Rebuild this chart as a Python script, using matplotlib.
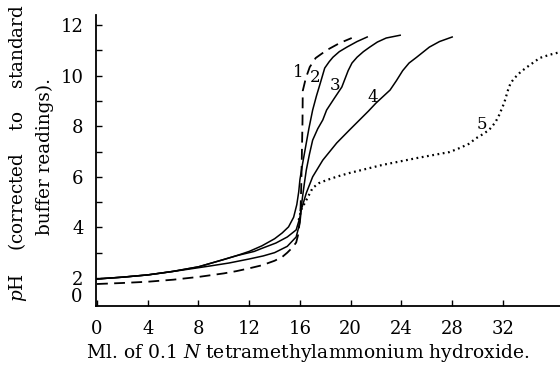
import matplotlib
matplotlib.use("Agg")
import matplotlib.pyplot as plt
import matplotlib.transforms as mtransforms

plt.rcParams['font.family'] = ['DejaVu Serif']
plt.rcParams['mathtext.fontset'] = 'dejavuserif'

# ---- data ----
c1_x = [0, 2, 4, 6, 8, 10, 11, 12, 13, 14, 14.6, 15.0, 15.4, 15.7, 15.85, 15.95, 16.05, 16.1,
        16.15, 16.2, 16.22, 16.46, 16.77, 17.24, 18.11, 19.13, 20.08]
c1_y = [1.76, 1.80, 1.85, 1.93, 2.04, 2.18, 2.27, 2.38, 2.50, 2.68, 2.83, 3.0, 3.2, 3.4, 3.7, 4.1, 4.8, 5.6,
        6.9, 8.2, 9.4, 9.9, 10.34, 10.7, 11.01, 11.29, 11.49]

c2_x = [0, 2, 4, 6, 8, 10, 11, 12, 13, 14, 14.6, 15.1, 15.5, 15.75, 15.9, 16.0, 16.2, 16.4, 16.7,
        17.0, 17.3, 17.6, 17.95, 18.3, 18.6, 19.1, 19.7, 20.5, 21.3]
c2_y = [1.96, 2.03, 2.12, 2.26, 2.44, 2.73, 2.88, 3.05, 3.27, 3.55, 3.78, 4.02, 4.4, 4.9, 5.4, 5.9, 6.5, 7.06, 7.9,
        8.64, 9.2, 9.7, 10.3, 10.55, 10.73, 10.95, 11.13, 11.35, 11.53]

c3_x = [0, 2, 4, 6, 8, 10, 11, 12, 12.4, 13, 14.1, 15.0, 15.7, 16.0, 16.1, 16.2, 16.35, 16.5, 16.75,
        17.0, 17.4, 17.8, 18.1, 18.7, 19.3, 19.8, 20.1, 20.5, 21.0, 21.5, 22.1, 22.8, 23.9]
c3_y = [1.96, 2.03, 2.12, 2.26, 2.44, 2.73, 2.88, 3.0, 3.05, 3.17, 3.38, 3.62, 3.9, 4.4, 4.8, 5.2, 5.75, 6.27, 6.9,
        7.45, 7.9, 8.25, 8.64, 9.1, 9.55, 10.2, 10.5, 10.73, 10.95, 11.13, 11.33, 11.49, 11.6]

c4_x = [0, 2, 4, 5.2, 7, 9, 10.4, 12, 13.1, 14, 15, 15.7, 16.0, 16.1, 16.5, 17.0, 17.8, 18.9, 19.9,
        20.7, 21.4, 22.0, 23.1, 23.6, 24.1, 24.6, 25.2, 26.2, 27.0, 28.0]
c4_y = [1.96, 2.03, 2.12, 2.2, 2.33, 2.48, 2.59, 2.75, 2.87, 3.0, 3.25, 3.62, 4.2, 4.69, 5.36, 6.0, 6.66, 7.34, 7.85,
        8.25, 8.6, 8.92, 9.43, 9.8, 10.2, 10.5, 10.73, 11.13, 11.35, 11.53]

c5_x = [15.9, 16.1, 16.5, 17.0, 17.5, 18.1, 19.0, 19.9, 21.2, 22.5, 23.8, 25.2, 26.5, 27.8, 28.6, 29.3,
        29.9, 30.4, 30.9, 31.4, 31.7, 32.1, 32.4, 32.6, 32.9, 33.4, 33.9, 34.4, 34.9, 35.7, 36.5]
c5_y = [4.29, 4.7, 5.08, 5.56, 5.75, 5.87, 6.02, 6.15, 6.31, 6.47, 6.6, 6.74, 6.86, 6.98, 7.14, 7.3,
        7.53, 7.68, 7.85, 8.15, 8.44, 8.92, 9.43, 9.7, 9.9, 10.15, 10.34, 10.52, 10.7, 10.83, 10.93]

curve_labels = ["1", "2", "3", "4", "5"]
label_x = [15.9, 17.17, 18.74, 21.73, 30.31]
label_y = [10.14, 9.91, 9.63, 9.15, 8.05]

x_ticks = [0, 4, 8, 12, 16, 20, 24, 28, 32]
y_ticks = [2, 4, 6, 8, 10, 12]
y_minor = [3, 5, 7, 9, 11]

# ---- figure ----
fig = plt.figure(figsize=(5.6, 3.67), dpi=100)
ax = fig.add_axes([96/560, 1 - 306/367, 1 - 96/560, (306 - 15)/367])

lw = 1.1
ax.plot(c1_x, c1_y, color='black', lw=1.3, linestyle=(0, (6, 3.5)))
ax.plot(c2_x, c2_y, color='black', lw=lw)
ax.plot(c3_x, c3_y, color='black', lw=lw)
ax.plot(c4_x, c4_y, color='black', lw=lw)
ax.plot(c5_x, c5_y, color='black', lw=1.6, linestyle=(0, (0.8, 1.6)))

for t, x, y in zip(curve_labels, label_x, label_y):
    ax.text(x, y, t, ha='center', va='center', fontsize=12)

ax.set_xlim(-0.08, 36.5)
ax.set_ylim(0.89, 12.4)
ax.spines['top'].set_visible(False)
ax.spines['right'].set_visible(False)
for s in ('left', 'bottom'):
    ax.spines[s].set_linewidth(1.3)

ax.set_xticks(x_ticks)
ax.set_xticklabels([str(v) for v in x_ticks])
ax.set_yticks(y_ticks)
ax.set_yticklabels([str(v) for v in y_ticks])
ax.set_yticks(y_minor, minor=True)
ax.tick_params(axis='both', which='both', direction='in', length=4, width=1, labelsize=13)
ax.tick_params(axis='y', pad=9)
ax.tick_params(axis='x', pad=10)

trans = mtransforms.blended_transform_factory(ax.transAxes, ax.transData)
ax.text(-0.03, 1.25, "0", transform=trans, ha='right', va='center', fontsize=13)

fig.text(0.5 * (88 + 527) / 560, 1 - 353/367, r"Ml. of 0.1 $N$ tetramethylammonium hydroxide.",
         ha='center', va='center', fontsize=13.5)
fig.text(18/560, 1 - 153/367, r"$p$H    (corrected    to    standard",
         rotation=90, ha='center', va='center', fontsize=13.2)
fig.text(45/560, 1 - 156/367, "buffer readings).",
         rotation=90, ha='center', va='center', fontsize=13.2)

fig.savefig("out.png", dpi=100)
